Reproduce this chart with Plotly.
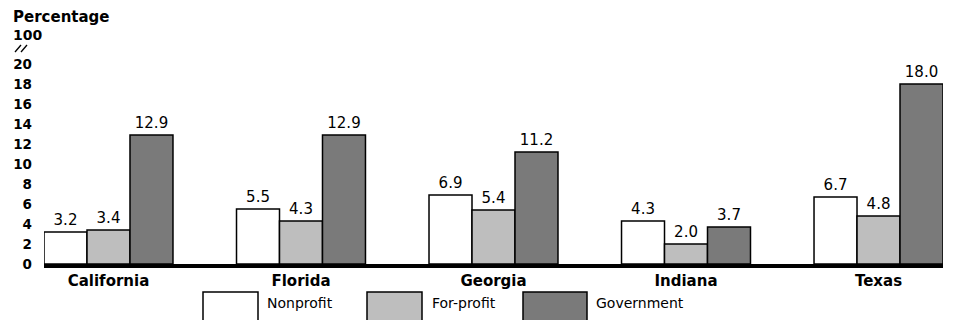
import plotly.graph_objects as go

states = ["California", "Florida", "Georgia", "Indiana", "Texas"]
series_names = ["Nonprofit", "For-profit", "Government"]
nonprofit = [3.2, 5.5, 6.9, 4.3, 6.7]
forprofit = [3.4, 4.3, 5.4, 2.0, 4.8]
government = [12.9, 12.9, 11.2, 3.7, 18.0]
y_ticks = [0, 2, 4, 6, 8, 10, 12, 14, 16, 18, 20]

colors = ["#ffffff", "#bebebe", "#7a7a7a"]
values = [nonprofit, forprofit, government]

FONT = "DejaVu Sans, sans-serif"

fig = go.Figure()
for name, vals, col in zip(series_names, values, colors):
    fig.add_trace(go.Bar(
        x=states, y=vals, name=name,
        marker=dict(color=col, line=dict(color="black", width=1.5)),
        texttemplate="%{y:.1f}", textposition="outside",
        textfont=dict(family=FONT, size=15, color="black"),
        cliponaxis=False, showlegend=False,
    ))

W, H = 958, 320
L, R, T, B = 44, 15, 44, 56
pw, ph = W - L - R, H - T - B

def px_x(p):
    return (p - L) / pw

def px_y(p):
    return (H - B - p) / ph

shapes = []
annotations = []
box_x = [(203, 258), (367, 422), (523, 587)]
text_x = [265, 430, 594]
for (x0, x1), tx, name, col in zip(box_x, text_x, series_names, colors):
    shapes.append(dict(type="rect", xref="paper", yref="paper",
                       x0=px_x(x0), x1=px_x(x1), y0=px_y(292), y1=px_y(330),
                       fillcolor=col, line=dict(color="black", width=1.5)))
    annotations.append(dict(xref="paper", yref="paper", x=px_x(tx), y=px_y(303),
                            text=name, showarrow=False, xanchor="left", yanchor="middle",
                            font=dict(family=FONT, size=14, color="black")))

annotations.append(dict(xref="paper", yref="paper", x=px_x(11), y=px_y(17),
                        text="<b>Percentage</b>", showarrow=False, xanchor="left",
                        yanchor="middle", font=dict(family=FONT, size=15, color="black")))
annotations.append(dict(xref="paper", yref="paper", x=px_x(11), y=px_y(35),
                        text="<b>100</b>", showarrow=False, xanchor="left",
                        yanchor="middle", font=dict(family=FONT, size=14, color="black")))

# axis break marks "//"
for bx in (15, 21):
    shapes.append(dict(type="line", xref="paper", yref="paper",
                       x0=px_x(bx), y0=px_y(52), x1=px_x(bx + 6), y1=px_y(45),
                       line=dict(color="black", width=1.3)))

fig.update_layout(
    width=W, height=H,
    margin=dict(l=L, r=R, t=T, b=B, pad=0),
    paper_bgcolor="white", plot_bgcolor="white",
    barmode="group", bargap=0.33, bargroupgap=0,
    xaxis=dict(range=[-0.335, 4.335], showline=True, linewidth=4, linecolor="black",
               ticks="", showgrid=False, zeroline=False,
               tickfont=dict(family=FONT, size=15, color="black", weight="bold")),
    yaxis=dict(range=[0, 22], tickvals=y_ticks, showgrid=False, zeroline=False,
               showline=False, ticks="", ticklabelstandoff=11,
               tickfont=dict(family=FONT, size=13.5, color="black", weight="bold")),
    shapes=shapes, annotations=annotations,
)

fig.write_html("out.html")
